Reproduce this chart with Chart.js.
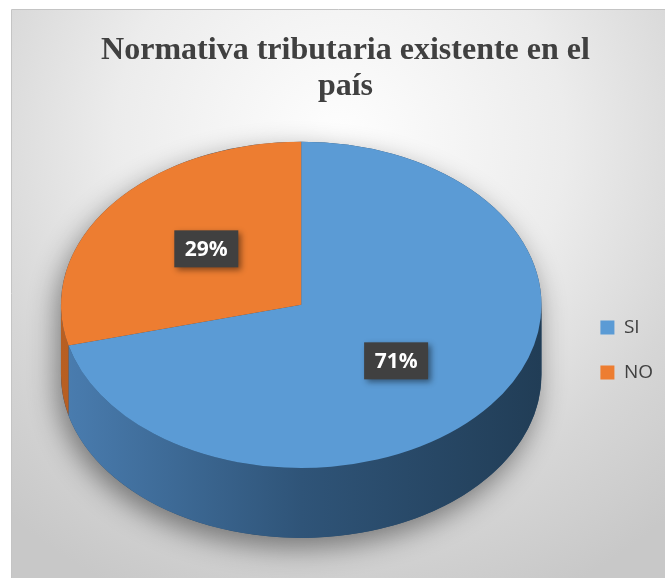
<!DOCTYPE html>
<html>
<head>
<meta charset="utf-8">
<script src="https://cdn.jsdelivr.net/npm/chart.js@4"></script>
<style>
  html, body { margin: 0; padding: 0; background: #fff; }
  canvas { display: block; }
</style>
</head>
<body>
<canvas id="pieChart" width="665" height="578"></canvas>
<script>
// data
const categories = ['SI', 'NO'];
const values = [71, 29];
const sliceColors = ['#5B9BD5', '#ED7D31'];
const sideColors = [['#4a7db0', '#2f5478', '#213d56'], ['#b85f22', '#a0521d', '#8a4518']];

const STRETCH = 240 / 163;   // horizontal stretch -> tilted (elliptical) pie
const DEPTH = 70;            // thickness of the pie wall

const backgroundPlugin = {
    id: 'background',
    beforeDraw(chart) {
        const ctx = chart.ctx;
        ctx.save();
        ctx.fillStyle = '#ffffff';
        ctx.fillRect(0, 0, chart.width, chart.height);
        const g = ctx.createRadialGradient(340, 140, 0, 340, 140, 500);
        g.addColorStop(0, '#fefefe');
        g.addColorStop(0.45, '#ececec');
        g.addColorStop(0.75, '#d6d6d6');
        g.addColorStop(1, '#c8c8c8');
        ctx.fillStyle = g;
        ctx.fillRect(12, 10, chart.width - 12, chart.height - 10);
        ctx.strokeStyle = '#c4c4c4';
        ctx.lineWidth = 1;
        ctx.beginPath();
        ctx.moveTo(11.5, chart.height);
        ctx.lineTo(11.5, 9.5);
        ctx.lineTo(chart.width, 9.5);
        ctx.stroke();
        ctx.restore();
    }
};

// visible part of an arc's wall: intersect [start, end] with the front half [0, PI]
function frontRange(s, e) {
    for (let k = -1; k <= 1; k++) {
        const a = Math.max(s + k * 2 * Math.PI, 0);
        const b = Math.min(e + k * 2 * Math.PI, Math.PI);
        if (b > a) return [a, b];
    }
    return null;
}

const tiltPlugin = {
    id: 'tilt',
    beforeDatasetsDraw(chart) {
        const ctx = chart.ctx;
        const meta = chart.getDatasetMeta(0);
        const first = meta.data[0];
        const cx = first.x, cy = first.y, r = first.outerRadius;

        const stretched = () => {
            ctx.translate(cx, 0);
            ctx.scale(STRETCH, 1);
            ctx.translate(-cx, 0);
        };

        // soft shadow under the whole pie
        ctx.save();
        stretched();
        ctx.beginPath();
        ctx.arc(cx, cy, r, Math.PI, 0);
        ctx.arc(cx, cy + DEPTH, r, 0, Math.PI);
        ctx.closePath();
        ctx.restore();
        ctx.save();
        ctx.shadowColor = 'rgba(0,0,0,0.45)';
        ctx.shadowBlur = 28;
        ctx.shadowOffsetX = -4;
        ctx.shadowOffsetY = 10;
        ctx.fillStyle = '#2a4a68';
        ctx.fill();
        ctx.restore();

        // wall of each slice
        meta.data.forEach((arc, i) => {
            const range = frontRange(arc.startAngle, arc.endAngle);
            if (!range) return;
            ctx.save();
            stretched();
            ctx.beginPath();
            ctx.arc(cx, cy, r, range[0], range[1]);
            ctx.arc(cx, cy + DEPTH, r, range[1], range[0], true);
            ctx.closePath();
            ctx.restore();
            const g = ctx.createLinearGradient(cx - r * STRETCH, 0, cx + r * STRETCH, 0);
            g.addColorStop(0, sideColors[i][0]);
            g.addColorStop(0.5, sideColors[i][1]);
            g.addColorStop(1, sideColors[i][2]);
            ctx.save();
            ctx.fillStyle = g;
            ctx.fill();
            ctx.restore();
        });

        // top face is drawn by Chart.js inside this stretch
        ctx.save();
        stretched();
    },
    afterDatasetsDraw(chart) {
        const ctx = chart.ctx;
        ctx.restore();
        const meta = chart.getDatasetMeta(0);
        const total = values.reduce((a, b) => a + b, 0);
        meta.data.forEach((arc, i) => {
            const p = arc.getCenterPoint();
            const x = arc.x + (p.x - arc.x) * STRETCH;
            const y = arc.y + (p.y - arc.y) * 1.12;
            const w = 64, h = 37;
            ctx.save();
            ctx.shadowColor = 'rgba(0,0,0,0.45)';
            ctx.shadowBlur = 6;
            ctx.shadowOffsetX = 3;
            ctx.shadowOffsetY = 3;
            ctx.fillStyle = '#404040';
            ctx.fillRect(x - w / 2, y - h / 2, w, h);
            ctx.restore();
            ctx.save();
            ctx.fillStyle = '#ffffff';
            ctx.font = 'bold 21px "Open Sans"';
            ctx.textAlign = 'center';
            ctx.textBaseline = 'middle';
            ctx.fillText(Math.round(values[i] / total * 100) + '%', x, y + 1);
            ctx.restore();
        });
    }
};

new Chart(document.getElementById('pieChart').getContext('2d'), {
    type: 'pie',
    data: {
        labels: categories,
        datasets: [{
            data: values,
            backgroundColor: sliceColors,
            borderWidth: 0,
            clip: false
        }]
    },
    options: {
        responsive: false,
        animation: false,
        events: [],
        layout: {
            padding: { top: 10, bottom: 110, left: 28, right: 2 }
        },
        plugins: {
            title: {
                display: true,
                text: ['Normativa tributaria existente en el', 'país'],
                color: '#404040',
                font: { family: '"Liberation Serif", "Times New Roman", serif', size: 32, weight: 'bold', lineHeight: 1.12 },
                padding: { top: 23, bottom: 37 }
            },
            legend: {
                position: 'right',
                align: 'start',
                title: { display: true, text: ' ', font: { size: 12, lineHeight: 1 }, padding: { top: 270, bottom: 0 } },
                labels: {
                    boxWidth: 14,
                    boxHeight: 14,
                    padding: 26,
                    color: '#404040',
                    font: { family: '"Open Sans"', size: 19 }
                }
            },
            tooltip: { enabled: false }
        }
    },
    plugins: [backgroundPlugin, tiltPlugin]
});
</script>
</body>
</html>
